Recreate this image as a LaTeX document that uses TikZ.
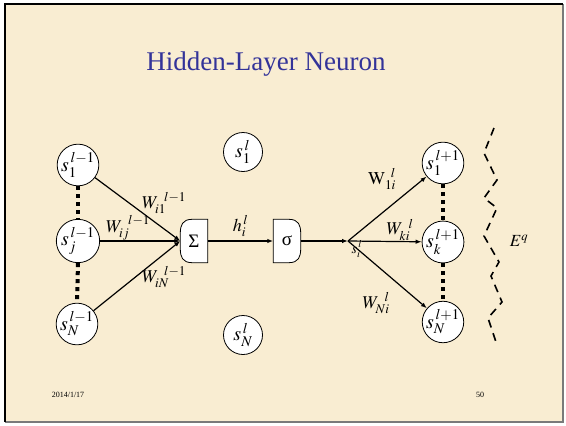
\documentclass[tikz,border=0pt]{standalone}
\usepackage{mathptmx}
\usepackage{fontspec}
\setmainfont{Liberation Serif}
\usetikzlibrary{positioning, arrows.meta, calc, backgrounds}
\definecolor{slidebg}{HTML}{F9EDD2}
\definecolor{slideblue}{HTML}{333399}
\definecolor{framegray}{HTML}{7A7A7A}

\begin{document}
\begin{tikzpicture}[x=1pt, y=-1pt,
    neuron/.style={circle, draw, fill=white, line width=0.8pt, minimum size=39pt, inner sep=0pt, font=\fontsize{20}{20}\selectfont},
    unitbox/.style={rectangle, minimum width=27pt, minimum height=43pt, inner sep=0pt, font=\fontsize{19}{19}\selectfont},
    boxline/.style={draw, fill=white, line width=0.8pt},
    wire/.style={line width=1.2pt, -{Latex[length=6pt, width=4.5pt]}},
    wlabel/.style={font=\fontsize{18}{18}\selectfont, inner sep=0pt},
    dots/.style={line width=4pt, dash pattern=on 4pt off 4pt}]
        % previous layer
        \node[neuron] (p1) at (78,165) {$s_1^{\,l-1}$};
        \node[neuron] (pj) at (78,241) {$s_j^{\,l-1}$};
        \node[neuron] (pN) at (77,324) {$s_N^{\,l-1}$};
        \draw[dots] (p1.south) -- (pj.north);
        \draw[dots] (pj.south) -- (pN.north);

        % current layer
        \node[neuron] (c1) at (243,152) {$s_1^{\,l}$};
        \node[neuron] (cN) at (243,335) {$s_N^{\,l}$};
        \node[unitbox] (sum) at (194,241) {Σ};
        \node[unitbox] (act) at (287,241) {σ};
        \coordinate (split) at (348,241);

        % slide background, frame and the two unit boxes
        \begin{scope}[on background layer]
          \fill[white] (0,0) rectangle (566,426);
          \fill[slidebg] (5,4) rectangle (563,422);
          \draw[framegray, line width=2pt] (563,4) -- (563,422) -- (5,422);
          \draw[black, line width=1.2pt] (5,4) -- (563,4);
          \draw[black, line width=2.6pt] (5,3.4) -- (5,422);
          \draw[boxline] (sum.north east) -- (sum.south east) -- ($(sum.south west)+(12,0)$)
              .. controls ($(sum.south west)+(2,0)$) and ($(sum.south west)+(0,-6)$) .. ($(sum.south west)+(0,-14)$)
              -- ($(sum.north west)+(0,14)$)
              .. controls ($(sum.north west)+(0,6)$) and ($(sum.north west)+(2,0)$) .. ($(sum.north west)+(12,0)$) -- cycle;
          \draw[boxline] (act.north west) -- (act.south west) -- ($(act.south east)+(-12,0)$)
              .. controls ($(act.south east)+(-2,0)$) and ($(act.south east)+(0,-6)$) .. ($(act.south east)+(0,-14)$)
              -- ($(act.north east)+(0,14)$)
              .. controls ($(act.north east)+(0,6)$) and ($(act.north east)+(-2,0)$) .. ($(act.north east)+(-12,0)$) -- cycle;
        \end{scope}
        \node[text=slideblue, font=\fontsize{27}{27}\selectfont] (title) at (266,64) {Hidden-Layer Neuron};

        % next layer
        \node[neuron] (n1) at (443,163) {$s_1^{\,l+1}$};
        \node[neuron] (nk) at (443,242) {$s_k^{\,l+1}$};
        \node[neuron] (nN) at (443,322) {$s_N^{\,l+1}$};
        \draw[dots] (n1.south) -- (nk.north);
        \draw[dots] (nk.south) -- (nN.north);

        % weighted inputs
        \draw[wire] (p1) -- (sum.west);
        \draw[wire] (pj) -- (sum.west);
        \draw[wire] (pN) -- (sum.west);
        \node[wlabel] (w1) at (164,203) {$W_{i1}^{\;\;l-1}$};
        \node[wlabel] (wj) at (128,228) {$W_{ij}^{\;\;l-1}$};
        \node[wlabel] (wN) at (164,277) {$W_{iN}^{\;\;l-1}$};

        \draw[wire] (sum.east) -- (act.west);
        \node[wlabel, above=4pt of $(sum.east)!0.5!(act.west)$] (h) {$h_i^{\,l}$};
        \draw[wire] (act.east) -- (split);
        \node[wlabel, font=\fontsize{14}{14}\selectfont] (out) at (357,249) {$s_i^{\,l}$};

        % outgoing weights
        \draw[wire] (split) -- (n1);
        \draw[wire] (split) -- (nk);
        \draw[wire] (split) -- (nN);
        \node[wlabel] (v1) at (382,179) {$\mathrm{W}_{1i}^{\;\;l}$};
        \node[wlabel] (vk) at (400,230) {$W_{ki}^{\;\;l}$};
        \node[wlabel] (vN) at (376,303) {$W_{Ni}^{\;\;l}$};

        % error boundary
        \draw[line width=1.6pt, dash pattern=on 8pt off 6pt]
            (494,128) -- (484,153) -- (497,180) -- (484,198) -- (497,208) -- (484,236)
            -- (499,262) -- (491,276) -- (502,302) -- (488,318) -- (497,345);
        \node[wlabel, font=\fontsize{17}{17}\selectfont] (err) at (519,241) {$E^{q}$};

        % footer
        \node[font=\fontsize{8}{8}\selectfont] (date) at (68,395) {2014/1/17};
        \node[font=\fontsize{8}{8}\selectfont] (page) at (480,395) {50};
      \end{tikzpicture}
\end{document}
